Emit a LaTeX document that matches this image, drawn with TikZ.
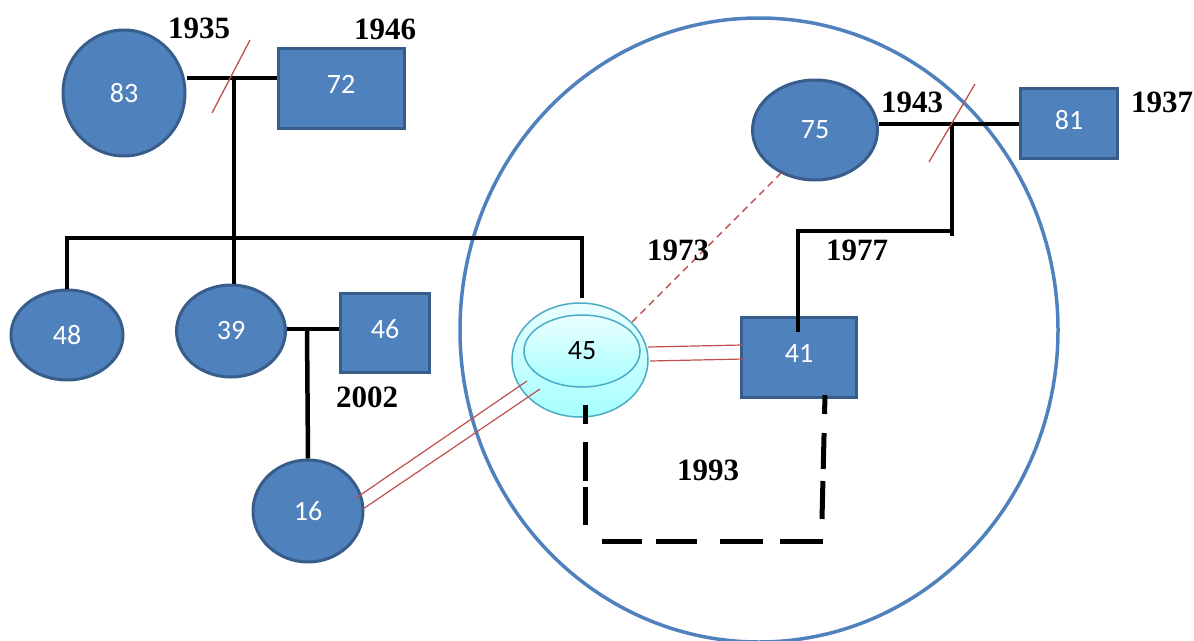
\documentclass[tikz,border=0pt]{standalone}
\usepackage{fontspec}
\setmainfont{Liberation Serif}
\newfontfamily\calfont{Carlito}
\usetikzlibrary{shapes.geometric}
\definecolor{nodeblue}{HTML}{4F81BD}
\definecolor{nodeedge}{HTML}{385D8A}
\definecolor{redline}{HTML}{C0504D}
\definecolor{cyanedge}{HTML}{4BACC6}
\tikzset{
  person/.style={ellipse, draw=nodeedge, fill=nodeblue, line width=3pt, inner sep=0pt, text=white, font=\calfont\fontsize{28}{30}\selectfont},
  male/.style={rectangle, draw=nodeedge, fill=nodeblue, line width=3pt, inner sep=0pt, text=white, font=\calfont\fontsize{28}{30}\selectfont},
  famline/.style={line width=4.5pt, black},
  dashline/.style={line width=5pt, black},
  redslash/.style={redline, line width=1.3pt},
  relline/.style={redline, line width=1.2pt},
  year/.style={font=\bfseries\fontsize{31}{33}\selectfont, inner sep=0pt},
  bigring/.style={draw=nodeblue, line width=3.5pt},
  cyanell/.style={ellipse, draw=cyanedge, line width=1.5pt, top color=cyan!8, bottom color=cyan!35!white, inner sep=0pt}
}
\newcommand{\uptext}[1]{\raisebox{7pt}{#1}}
\begin{document}
\begin{tikzpicture}[x=1pt,y=-1pt]
\useasboundingbox (0,0) rectangle (1194,640);
% big circle
\draw[bigring] (759,330) ellipse [x radius=299, y radius=312];
% nodes
\node[person, minimum width=122pt, minimum height=126pt] (n83) at (124,93) {83};
\node[male, minimum width=126pt, minimum height=80pt] (n72) at (341,88) {\uptext{72}};
\node[person, minimum width=112pt, minimum height=90pt] (n48) at (67,335) {48};
\node[person, minimum width=109pt, minimum height=92pt] (n39) at (231,331) {39};
\node[male, minimum width=89pt, minimum height=79pt] (n46) at (385,333) {\uptext{46}};
\node[person, minimum width=110pt, minimum height=102pt] (n16) at (308,511) {16};
\node[person, minimum width=125pt, minimum height=100pt] (n75) at (815,130) {75};
\node[male, minimum width=97pt, minimum height=70pt] (n81) at (1069,123) {\uptext{81}};
\node[male, minimum width=115pt, minimum height=80pt] (n41) at (799,357) {\uptext{41}};
\node[cyanell, minimum width=136pt, minimum height=114pt] (n45o) at (580,360) {};
\node[cyanell, minimum width=116pt, minimum height=72pt, font=\calfont\fontsize{28}{30}\selectfont, text=black] (n45) at (582,351) {45};
% coordinates
\coordinate (c1) at (234,78);
\coordinate (s1) at (66,238);
\coordinate (s2) at (582,238);
\coordinate (s3) at (582,298);
\coordinate (c2) at (307,329);
\coordinate (c3) at (952,124);
\coordinate (c4) at (952,236);
\coordinate (c5) at (952,231);
\coordinate (c6) at (798,231);
\coordinate (c7) at (798,332);
% family lines
\draw[famline] (n83.east |- c1) -- (n72.west |- c1);
\draw[famline] (c1) -- (c1 |- n39.north);
\draw[famline] (n48.north) -- (n48.north |- s1) -- (s2) -- (s3);
\draw[famline] (n39.east |- c2) -- (n46.west |- c2);
\draw[famline] (c2) -- (n16.north);
\draw[famline] (n75.east |- c3) -- (n81.west |- c3);
\draw[famline] (c3) -- (c4);
\draw[famline] (c5) -- (c6) -- (c7);
% divorce slashes
\draw[redslash] (250,40) -- (212,113);
\draw[redslash] (975,84) -- (929,162);
% dashed cohabitation
\coordinate (d1) at (585,405);
\coordinate (d2) at (585,525);
\coordinate (d3) at (602,541);
\coordinate (d4) at (823,541);
\coordinate (d5) at (825,395);
\coordinate (d6) at (822,519);
\draw[dashline, dash pattern=on 19pt off 18pt on 39pt off 6pt on 38pt off 50pt] (d1) -- (d2);
\draw[dashline, dash pattern=on 40pt off 14pt on 41pt off 23pt on 43pt off 17pt on 43pt off 50pt] (d3) -- (d4);
\draw[dashline, dash pattern=on 19pt off 19pt on 36pt off 12pt on 38pt off 50pt] (d5) -- (d6);
% relationship lines
\coordinate (r1a) at (632,322);
\coordinate (r1b) at (782,172);
\draw[relline, line width=1.4pt, dash pattern=on 7pt off 5pt] (r1a) -- (r1b);
\coordinate (r2a) at (648,347);
\coordinate (r2b) at (742,345);
\coordinate (r3a) at (650,361);
\coordinate (r3b) at (744,359);
\draw[relline] (r2a) -- (r2b);
\draw[relline] (r3a) -- (r3b);
\coordinate (r4a) at (527,381);
\coordinate (r4b) at (356,498);
\coordinate (r5a) at (540,389);
\coordinate (r5b) at (363,509);
\draw[relline] (r4a) -- (r4b);
\draw[relline] (r5a) -- (r5b);
% years
\node[year] (y1935) at (199,28) {1935};
\node[year] (y1946) at (385,29) {1946};
\node[year] (y1943) at (912,102) {1943};
\node[year] (y1937) at (1162,102) {1937};
\node[year] (y1973) at (678,250) {1973};
\node[year] (y1977) at (857,250) {1977};
\node[year] (y2002) at (367,397) {2002};
\node[year] (y1993) at (708,470) {1993};
\end{tikzpicture}
\end{document}
